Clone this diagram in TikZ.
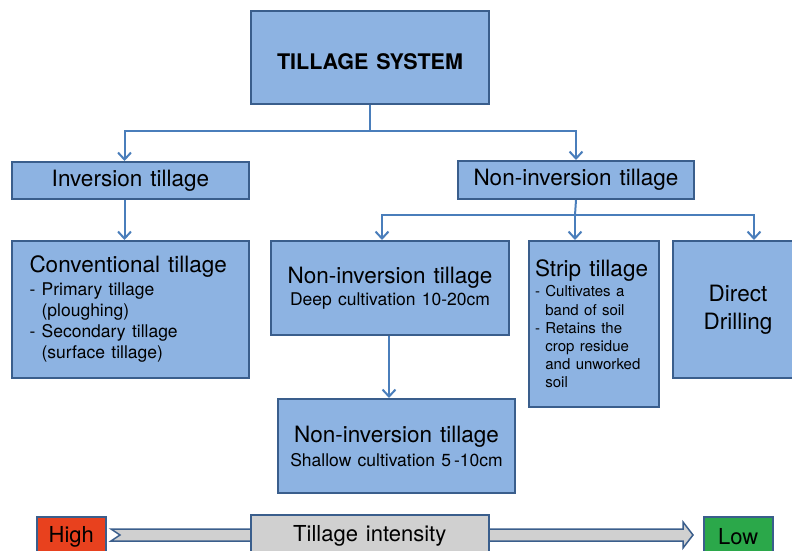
\documentclass[tikz,border=0pt]{standalone}
\usepackage{fontspec}
\setmainfont{TeX Gyre Heros}[WordSpace=1.3]
\usetikzlibrary{arrows.meta,calc}
\definecolor{boxfill}{HTML}{8DB3E2}
\definecolor{boxline}{HTML}{3A5E8C}
\definecolor{connc}{HTML}{4A7EBB}
\definecolor{hired}{HTML}{E8411E}
\definecolor{logreen}{HTML}{2BA84A}
\definecolor{intgray}{HTML}{D0D0D0}
\newcommand\bigtxt{\fontsize{22.5}{26}\selectfont\spaceskip=.36em\relax}
\newcommand\midtxt[1]{\fontsize{17.5}{#1}\selectfont\spaceskip=.36em\relax}
\newcommand\smalltxt{\fontsize{15}{18.2}\selectfont\spaceskip=.36em\relax}
\tikzset{
  bx/.style={draw=boxline, fill=boxfill, line width=2pt, inner sep=0pt, anchor=north west},
  conn/.style={draw=connc, line width=2pt},
  arr/.style={conn, -{Straight Barb[length=7pt,width=13pt,line width=2pt]}},
  hd/.style={font=\fontsize{22.5}{26}\selectfont}
}
\begin{document}
\begin{tikzpicture}[x=1pt,y=-1pt]
\useasboundingbox (0,0) rectangle (792,551);
\clip (0,0) rectangle (792,551);

% boxes
\node[bx, minimum width=238pt, minimum height=93pt, font=\bfseries\fontsize{21.5}{26}\selectfont] (title) at (250,10) {\raisebox{-12pt}[0pt][0pt]{TILLAGE SYSTEM}};
\node[bx, hd, minimum width=237pt, minimum height=37pt] (inv) at (11,161) {Inversion tillage};
\node[bx, hd, minimum width=236pt, minimum height=38pt] (noninv) at (457,160) {Non-inversion tillage};

\node[bx, minimum width=237pt, minimum height=137pt, text width=202pt, align=left] (conv) at (11,240)
 {{\bigtxt Conventional tillage\par}\vskip2pt
  {\midtxt{21} - Primary tillage\\\hphantom{- }(ploughing)\\- Secondary tillage\\\hphantom{- }(surface tillage)\par}};

\node[bx, minimum width=238pt, minimum height=94pt, text width=234pt, align=center] (deep) at (270,240)
 {{\bigtxt Non-inversion tillage\par}
  {\midtxt{22} Deep cultivation 10-20cm\par}};

\node[bx, minimum width=130pt, minimum height=166pt, text width=118pt, align=left] (strip) at (528,240)
 {{\bigtxt Strip tillage\par}\vskip2pt
  {\smalltxt - Cultivates a\\\hphantom{- }band of soil\\- Retains the\\\hphantom{- }crop residue\\\hphantom{- }and unworked\\\hphantom{- }soil\par}};

\node[bx, minimum width=130pt, minimum height=137pt, text width=120pt, align=center] (direct) at (672,240)
 {{\fontsize{22.5}{28}\selectfont Direct\\Drilling\par}};

\node[bx, minimum width=237pt, minimum height=94pt, text width=234pt, align=center] (shallow) at (277,398)
 {{\bigtxt Non-inversion tillage\par}
  {\midtxt{24} Shallow cultivation 5\,-10cm\par}};

% connectors
\coordinate (b1) at (370,131);
\draw[conn] (title.south) -- (b1);
\draw[arr] (b1) -| ([xshift=-6pt]inv.north);
\draw[arr] (b1) -| (noninv.north);
\draw[arr] ([xshift=-6pt]inv.south) -- ([xshift=-6pt]conv.north);

\coordinate (b2) at (575,215);
\draw[conn] (noninv.south) -- (b2);
\draw[arr] (b2) -| ([xshift=-8pt]deep.north);
\draw[arr] (b2) -- (b2 |- strip.north);
\draw[arr] (b2) -| ([xshift=16pt]direct.north);
\draw[arr] ([xshift=-1pt]deep.south) -- ([xshift=-1pt]deep.south |- shallow.north);

% intensity bar
\draw[draw=boxline, fill=intgray, line width=1.5pt, line join=miter]
  (111,529) -- (683,529) -- (683,522) -- (693,535) -- (683,548) -- (683,541) -- (111,541) -- (120,535) -- cycle;
\node[bx, fill=hired, line width=1.5pt, minimum width=69pt, minimum height=40pt, font=\fontsize{22}{26}\selectfont] (high) at (36,516) {High};
\node[bx, fill=logreen, line width=1.5pt, minimum width=69pt, minimum height=40pt, font=\fontsize{22}{26}\selectfont] (low) at (703,516) {Low};
\node[bx, fill=intgray, line width=1.5pt, minimum width=238pt, minimum height=42pt, font=\fontsize{22}{26}\selectfont] (intens) at (250,514) {Tillage intensity};
\end{tikzpicture}
\end{document}
